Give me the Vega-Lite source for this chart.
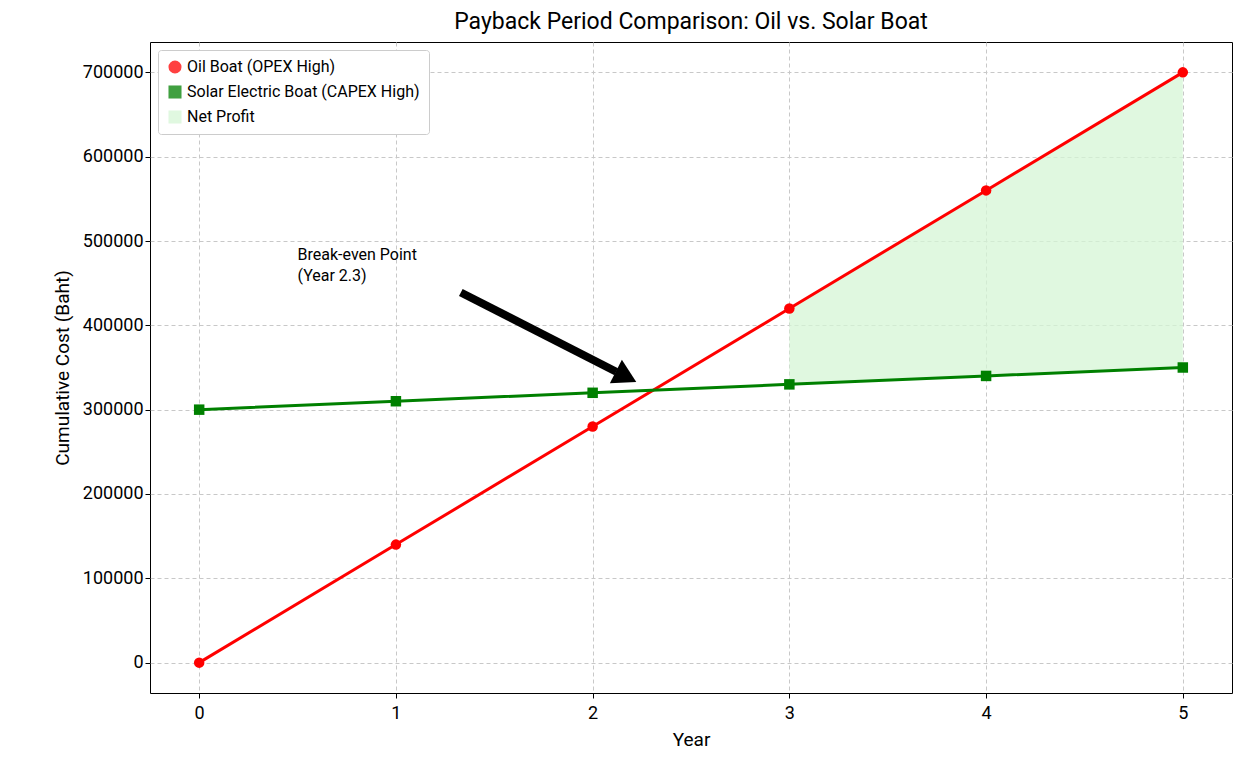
{
  "$schema": "https://vega.github.io/schema/vega-lite/v6.json",
  "width": 1082,
  "height": 651,
  "autosize": "none",
  "padding": {"left": 150, "top": 42, "right": 15, "bottom": 79},
  "background": "white",
  "config": {
    "font": "Roboto",
    "view": {"stroke": "black", "strokeWidth": 1},
    "axis": {"domain": false, "tickColor": "black", "gridDash": [4, 3], "gridColor": "#c8c8c8"}
  },
  "title": {"text": "Payback Period Comparison: Oil vs. Solar Boat", "fontSize": 23, "fontWeight": "normal", "offset": 8},
  "datasets": {
    "costs": [
      {"year": 0, "series": "Oil Boat (OPEX High)", "cost": 0},
      {"year": 1, "series": "Oil Boat (OPEX High)", "cost": 140000},
      {"year": 2, "series": "Oil Boat (OPEX High)", "cost": 280000},
      {"year": 3, "series": "Oil Boat (OPEX High)", "cost": 420000},
      {"year": 4, "series": "Oil Boat (OPEX High)", "cost": 560000},
      {"year": 5, "series": "Oil Boat (OPEX High)", "cost": 700000},
      {"year": 0, "series": "Solar Electric Boat (CAPEX High)", "cost": 300000},
      {"year": 1, "series": "Solar Electric Boat (CAPEX High)", "cost": 310000},
      {"year": 2, "series": "Solar Electric Boat (CAPEX High)", "cost": 320000},
      {"year": 3, "series": "Solar Electric Boat (CAPEX High)", "cost": 330000},
      {"year": 4, "series": "Solar Electric Boat (CAPEX High)", "cost": 340000},
      {"year": 5, "series": "Solar Electric Boat (CAPEX High)", "cost": 350000}
    ],
    "profit": [
      {"year": 3, "series": "Net Profit", "low": 330000, "high": 420000},
      {"year": 4, "series": "Net Profit", "low": 340000, "high": 560000},
      {"year": 5, "series": "Net Profit", "low": 350000, "high": 700000}
    ],
    "arrow": [
      {"x1": 1.33, "y1": 439000, "x2": 2.12, "y2": 345000}
    ],
    "head": [
      {"x": 2.17, "y": 339000}
    ],
    "note": [
      {"x": 0.5, "y": 483000, "text": "Break-even Point"},
      {"x": 0.5, "y": 458000, "text": "(Year 2.3)"}
    ]
  },
  "encoding": {
    "x": {"type": "quantitative", "scale": {"domain": [-0.25, 5.25], "nice": false, "zero": false}, "axis": {"values": [0, 1, 2, 3, 4, 5], "title": "Year", "labelPadding": 6, "labelFontSize": 18, "titleFontSize": 19, "titleFontWeight": "normal", "labelColor": "black", "titleColor": "black", "titlePadding": 8}},
    "y": {"type": "quantitative", "scale": {"domain": [-36000, 736000], "nice": false}, "axis": {"values": [0, 100000, 200000, 300000, 400000, 500000, 600000, 700000], "format": "d", "title": "Cumulative Cost (Baht)", "titlePadding": 10, "labelFontSize": 18, "titleFontSize": 19, "titleFontWeight": "normal", "labelColor": "black", "titleColor": "black"}}
  },
  "layer": [
    {
      "data": {"name": "profit"},
      "mark": {"type": "area", "opacity": 0.75},
      "encoding": {
        "x": {"field": "year"},
        "y": {"field": "high"},
        "y2": {"field": "low"},
        "color": {"field": "series", "type": "nominal"},
        "shape": {"field": "series", "type": "nominal"}
      }
    },
    {
      "data": {"name": "costs"},
      "mark": {"type": "line", "strokeWidth": 3},
      "encoding": {
        "x": {"field": "year"},
        "y": {"field": "cost"},
        "color": {"field": "series", "type": "nominal"}
      }
    },
    {
      "data": {"name": "costs"},
      "mark": {"type": "point", "filled": true, "size": 110, "opacity": 1},
      "encoding": {
        "x": {"field": "year"},
        "y": {"field": "cost"},
        "color": {"field": "series", "type": "nominal",
          "scale": {"domain": ["Oil Boat (OPEX High)", "Solar Electric Boat (CAPEX High)", "Net Profit"], "range": ["#ff0000", "#008000", "#d6f5d6"]},
          "legend": {"title": null, "orient": "top-left", "offset": 8, "labelFontSize": 16, "labelLimit": 400, "symbolSize": 170, "symbolOpacity": 1, "fillColor": "white", "strokeColor": "#cccccc", "padding": 9, "cornerRadius": 3, "rowPadding": 9, "symbolStrokeWidth": 0, "labelColor": "black"}},
        "shape": {"field": "series", "type": "nominal",
          "scale": {"domain": ["Oil Boat (OPEX High)", "Solar Electric Boat (CAPEX High)", "Net Profit"], "range": ["circle", "square", "square"]}}
      }
    },
    {
      "data": {"name": "arrow"},
      "mark": {"type": "rule", "strokeWidth": 8, "color": "black"},
      "encoding": {"x": {"field": "x1"}, "y": {"field": "y1"}, "x2": {"field": "x2"}, "y2": {"field": "y2"}}
    },
    {
      "data": {"name": "head"},
      "mark": {"type": "point", "shape": "triangle-right", "filled": true, "color": "black", "size": 700, "angle": 27, "opacity": 1},
      "encoding": {"x": {"field": "x"}, "y": {"field": "y"}}
    },
    {
      "data": {"name": "note"},
      "mark": {"type": "text", "align": "left", "fontSize": 16, "color": "black"},
      "encoding": {"x": {"field": "x"}, "y": {"field": "y"}, "text": {"field": "text"}}
    }
  ]
}
